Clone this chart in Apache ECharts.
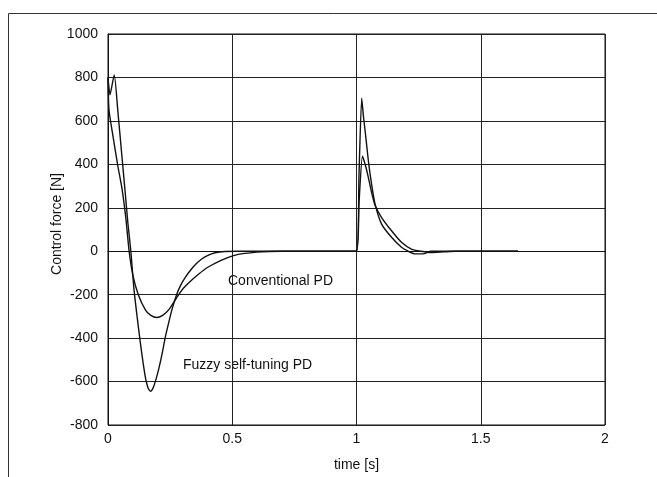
<!DOCTYPE html>
<html>
<head>
<meta charset="utf-8">
<script src="https://cdn.jsdelivr.net/npm/echarts@6/dist/echarts.min.js"></script>
<style>
  html, body { margin: 0; padding: 0; background: #fff; }
  #main { width: 657px; height: 477px; }
</style>
</head>
<body>
<div id="main"></div>
<script>
// values
var timeFuzzy = [0, 0.008, 0.025, 0.04, 0.055, 0.07, 0.08, 0.092, 0.104, 0.117, 0.13, 0.142, 0.152, 0.162, 0.171,
  0.182, 0.193, 0.204, 0.218, 0.231, 0.244, 0.257, 0.276, 0.292, 0.311, 0.336, 0.355, 0.377, 0.4, 0.431,
  0.47, 0.52, 0.7, 1.0, 1.01, 1.021, 1.028, 1.035, 1.048, 1.061, 1.075, 1.101, 1.141, 1.181, 1.208, 1.235,
  1.268, 1.3, 1.65];
var forceFuzzy = [800, 720, 812, 640, 450, 260, 130, 0, -170, -300, -420, -520, -590, -632, -645,
  -628, -590, -543, -470, -393, -330, -270, -200, -157, -120, -82, -58, -36, -20, -7,
  -1, 0, 0, 0, 350, 705, 620, 551, 414, 307, 216, 125, 64, 18, 0, -12,
  -12, 0, 0];

var timeConv = [0, 0.004, 0.02, 0.04, 0.056, 0.072, 0.085, 0.1, 0.122, 0.151, 0.171, 0.196, 0.22, 0.244,
  0.276, 0.3, 0.336, 0.364, 0.4, 0.455, 0.505, 0.55, 0.6, 0.65, 0.7, 1.0, 1.01, 1.024, 1.035, 1.048,
  1.061, 1.075, 1.101, 1.141, 1.181, 1.221, 1.26, 1.3, 1.35, 1.4, 1.65];
var forceConv = [800, 650, 530, 390, 290, 150, 0, -110, -200, -271, -294, -305, -295, -270,
  -215, -175, -134, -106, -75, -42, -20, -10, -4, -1, 0, 0, 220, 437, 399, 338,
  269, 210, 155, 94, 41, 10, 0, -6, -3, 0, 0];

var labelConv = 'Conventional PD';
var labelFuzzy = 'Fuzzy self-tuning PD';
var yTitle = 'Control force [N]';

function pairs(t, f) {
  var out = [];
  for (var i = 0; i < t.length; i++) out.push([t[i], f[i]]);
  return out;
}

var chart = echarts.init(document.getElementById('main'));
var font = '"Liberation Sans", Arial, sans-serif';

var option = {
  backgroundColor: '#fff',
  animation: false,
  grid: {
    left: 108, right: 52, top: 34, bottom: 48,
    show: true, borderColor: '#111', borderWidth: 1
  },
  xAxis: {
    type: 'value', min: 0, max: 2, interval: 0.5,
    name: 'time [s]', nameLocation: 'middle', nameGap: 33,
    nameTextStyle: { color: '#111', fontSize: 14, fontFamily: font },
    axisLine: { show: true, lineStyle: { color: '#111' } },
    axisTick: { show: false },
    axisLabel: { color: '#111', fontSize: 14, fontFamily: font, margin: 7 },
    splitLine: { show: true, lineStyle: { color: '#222', width: 1 } }
  },
  yAxis: {
    type: 'value', min: -800, max: 1000, interval: 200,
    axisLine: { show: true, lineStyle: { color: '#111' } },
    axisTick: { show: false },
    axisLabel: { color: '#111', fontSize: 14, fontFamily: font, margin: 10,
      formatter: function (v) { return String(v); } },
    splitLine: { show: true, lineStyle: { color: '#222', width: 1 } }
  },
  series: [
    {
      name: labelFuzzy, type: 'line', data: pairs(timeFuzzy, forceFuzzy),
      showSymbol: false, smooth: 0.2,
      lineStyle: { color: '#111', width: 1.4 }
    },
    {
      name: labelConv, type: 'line', data: pairs(timeConv, forceConv),
      showSymbol: false, smooth: 0.2,
      lineStyle: { color: '#111', width: 1.4 }
    }
  ],
  graphic: [
    // outer frame of the scanned page
    { type: 'rect', shape: { x: 8.5, y: 13.5, width: 700, height: 500 },
      style: { fill: 'none', stroke: '#333', lineWidth: 1 }, silent: true },
    // y axis title, placed by hand so it sits where the scan has it
    { type: 'text', x: 57, y: 224, rotation: Math.PI / 2,
      style: { text: yTitle, fill: '#111', fontSize: 14, fontFamily: font,
        align: 'center', verticalAlign: 'middle' } },
    { type: 'text', left: 228, top: 274,
      style: { text: labelConv, fill: '#111', fontSize: 14, fontFamily: font } },
    { type: 'text', left: 183, top: 358,
      style: { text: labelFuzzy, fill: '#111', fontSize: 14, fontFamily: font } }
  ]
};

chart.setOption(option);
</script>
</body>
</html>
